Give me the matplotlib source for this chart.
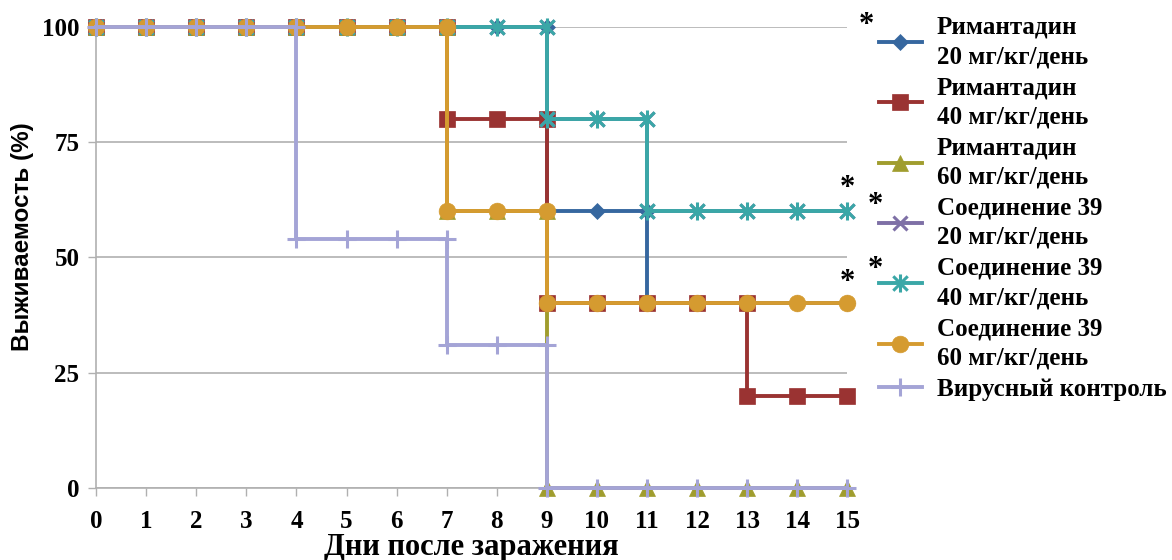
import matplotlib
matplotlib.use("Agg")
import matplotlib.pyplot as plt
from matplotlib.path import Path

# days after infection (step curves: repeated day = drop on that day)
days_rim20 = [0, 1, 2, 3, 4, 5, 6, 7, 8, 9, 9, 10, 11, 11, 12, 13, 14, 15]
surv_rim20 = [100, 100, 100, 100, 100, 100, 100, 100, 100, 100, 60, 60, 60, 40, 40, 40, 40, 40]

days_rim40 = [0, 1, 2, 3, 4, 5, 6, 7, 7, 8, 9, 9, 10, 11, 12, 13, 13, 14, 15]
surv_rim40 = [100, 100, 100, 100, 100, 100, 100, 100, 80, 80, 80, 40, 40, 40, 40, 40, 20, 20, 20]

days_rim60 = [0, 1, 2, 3, 4, 5, 6, 7, 7, 8, 9, 9, 10, 11, 12, 13, 14, 15]
surv_rim60 = [100, 100, 100, 100, 100, 100, 100, 100, 60, 60, 60, 0, 0, 0, 0, 0, 0, 0]

days_c20 = [0, 1, 2, 3, 4, 5, 6, 7, 8, 9, 9, 10, 11, 11, 12, 13, 14, 15]
surv_c20 = [100, 100, 100, 100, 100, 100, 100, 100, 100, 100, 80, 80, 80, 60, 60, 60, 60, 60]

days_c40 = [0, 1, 2, 3, 4, 5, 6, 7, 8, 9, 9, 10, 11, 11, 12, 13, 14, 15]
surv_c40 = [100, 100, 100, 100, 100, 100, 100, 100, 100, 100, 80, 80, 80, 60, 60, 60, 60, 60]

days_c60 = [0, 1, 2, 3, 4, 5, 6, 7, 7, 8, 9, 9, 10, 11, 12, 13, 14, 15]
surv_c60 = [100, 100, 100, 100, 100, 100, 100, 100, 60, 60, 60, 40, 40, 40, 40, 40, 40, 40]

days_ctrl = [0, 1, 2, 3, 4, 4, 5, 6, 7, 7, 8, 9, 9, 10, 11, 12, 13, 14, 15]
surv_ctrl = [100, 100, 100, 100, 100, 54, 54, 54, 54, 31, 31, 31, 0, 0, 0, 0, 0, 0, 0]

labels = ["Римантадин\n20 мг/кг/день", "Римантадин\n40 мг/кг/день",
          "Римантадин\n60 мг/кг/день", "Соединение 39\n20 мг/кг/день",
          "Соединение 39\n40 мг/кг/день", "Соединение 39\n60 мг/кг/день",
          "Вирусный контроль"]

# Excel-like star marker: an x with a vertical bar
star_marker = Path([(-1, -1), (1, 1), (-1, 1), (1, -1), (0, -1.25), (0, 1.25)],
                   [Path.MOVETO, Path.LINETO, Path.MOVETO, Path.LINETO, Path.MOVETO, Path.LINETO])

series = [
    (days_rim20, surv_rim20, "#36679f", "D", 8.5),
    (days_rim40, surv_rim40, "#9a3332", "s", 11),
    (days_rim60, surv_rim60, "#a09d2e", "^", 11),
    (days_c20, surv_c20, "#7e70a6", "x", 10),
    (days_c40, surv_c40, "#3aa7a7", star_marker, 13),
    (days_c60, surv_c60, "#d59b30", "o", 12),
    (days_ctrl, surv_ctrl, "#a4a4d6", "+", 13),
]

serif = "Liberation Serif"

fig = plt.figure(figsize=(11.72, 5.6), dpi=100)
ax = fig.add_axes([0.082, 0.129, 0.641, 0.823])

for (d, s, c, m, ms), lab in zip(series, labels):
    thin = m in ("D", "s", "^", "o")
    ax.plot(d, s, color=c, lw=2.8, marker=m, markersize=ms,
            markeredgewidth=0.5 if thin else 2.2,
            markeredgecolor=c, label=lab, clip_on=False, zorder=3)

ax.set_xlim(0, 15)
ax.set_ylim(0, 100)
ax.set_xticks(range(0, 16))
ax.set_yticks([0, 25, 50, 75, 100])
ax.grid(axis="y", color="#b0b0b0", lw=1.2)
for sp in ["top", "right"]:
    ax.spines[sp].set_visible(False)
for sp in ["left", "bottom"]:
    ax.spines[sp].set_color("#b0b0b0")
    ax.spines[sp].set_linewidth(1.2)
ax.tick_params(axis="both", length=6, width=1, color="#b0b0b0", direction="out")
ax.tick_params(axis="x", pad=10)
ax.tick_params(axis="y", pad=6)
for t in ax.get_xticklabels() + ax.get_yticklabels():
    t.set_fontfamily(serif)
    t.set_fontweight("bold")
    t.set_fontsize(18)

ax.set_xlabel("Дни после заражения", fontfamily=serif, fontweight="bold", fontsize=22)
ax.xaxis.set_label_coords(0.5, -0.098)
ax.set_ylabel("Выживаемость (%)", fontfamily="Liberation Sans", fontweight="bold", fontsize=17.5)
ax.yaxis.set_label_coords(-0.083, 0.545)

leg = ax.legend(loc="upper left", bbox_to_anchor=(0.731, 1.012), bbox_transform=fig.transFigure,
                frameon=False, handlelength=1.7, handletextpad=0.6, labelspacing=0.32,
                prop={"family": serif, "weight": "bold", "size": 18})
for t in leg.get_texts():
    t.set_linespacing(1.35)

# significance marks
star = dict(fontfamily=serif, fontweight="bold", fontsize=22, ha="center", va="center")
fig.text(0.739, 0.955, "*", **star)
fig.text(0.747, 0.633, "*", **star)
fig.text(0.747, 0.518, "*", **star)
ax.text(15, 65, "*", **star, transform=ax.transData)
ax.text(15, 44.5, "*", **star, transform=ax.transData)

fig.savefig("out.png", dpi=100)
